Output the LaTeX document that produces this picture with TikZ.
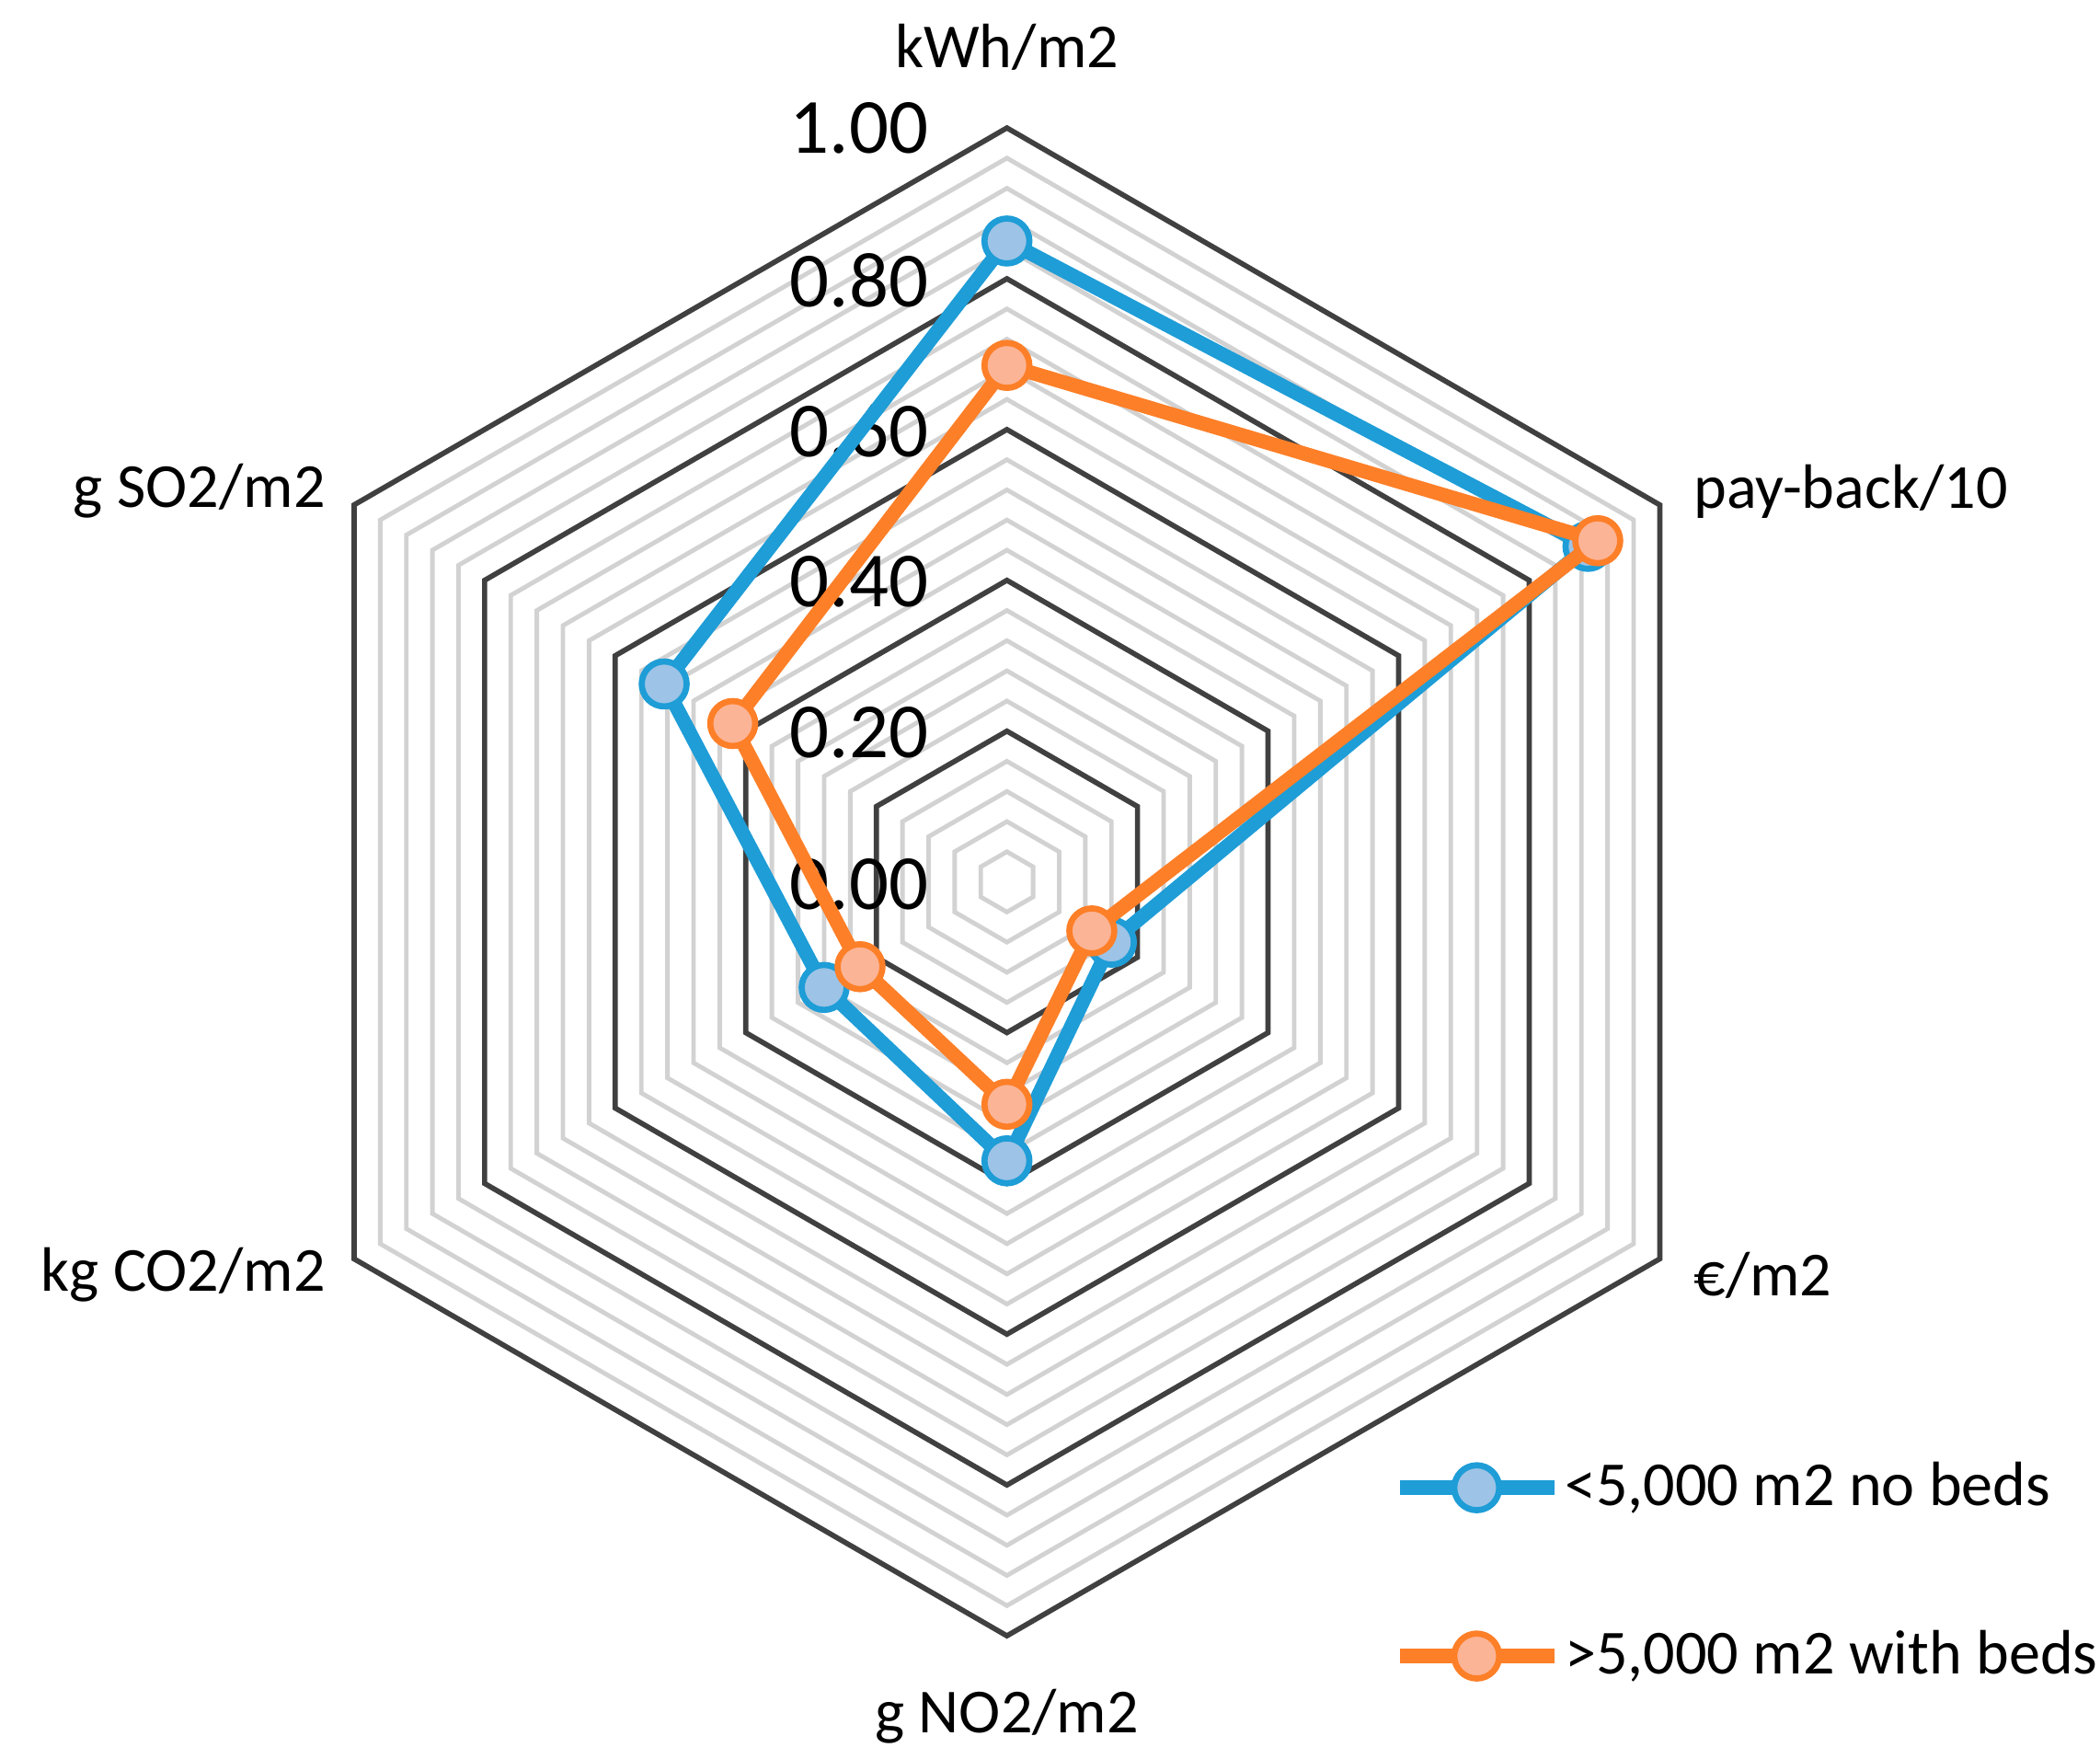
\documentclass[tikz,border=0pt]{standalone}
\usepackage{fontspec}
\setmainfont{Carlito}
\usetikzlibrary{calc}
\begin{document}
\begin{tikzpicture}[x=0.02cm,y=-0.02cm,
  lab/.style={font=\fontsize{26.5}{32}\selectfont,inner sep=0pt},
  tick/.style={font=\fontsize{33}{38}\selectfont,inner sep=0pt,anchor=east},
  ser/.style={line width=6pt,line join=round},
  mk/.style={circle,line width=2.6pt,minimum size=19pt,inner sep=0pt}]
\definecolor{sblue}{RGB}{30,157,215}\definecolor{sbluef}{RGB}{157,195,230}
\definecolor{sor}{RGB}{253,127,40}\definecolor{sorf}{RGB}{251,180,150}
\definecolor{gdark}{RGB}{64,64,64}\definecolor{glight}{RGB}{210,210,210}
\useasboundingbox (0,0) rectangle (1560,1306);
\coordinate (c) at (748,655);
\foreach \i in {1,...,25}{
  \pgfmathsetmacro\r{22.4*\i}
  \pgfmathtruncatemacro\m{mod(\i,5)}
  \ifnum\m=0 \def\col{gdark}\def\lw{2.2pt}\else\def\col{glight}\def\lw{1.9pt}\fi
  \draw[draw=\col,line width=\lw,line join=miter] ($(c)+(90:\r)$) \foreach \a in {30,-30,-90,210,150}{-- ($(c)+(\a:\r)$)} -- cycle;
}
\foreach \v/\y in {1.00/95,0.80/208,0.60/320,0.40/432,0.20/544,0.00/657}
  \node[tick] (t\y) at (690,\y) {\v};
\node[lab] (l1) at (748,35) {kWh/m2};
\node[lab,anchor=west] (l2) at (1258,365) {pay-back/10};
\node[lab,anchor=west] (l3) at (1258,947) {€/m2};
\node[lab] (l4) at (748,1275) {g NO2/m2};
\node[lab,anchor=east] (l5) at (242,947) {kg CO2/m2};
\node[lab,anchor=east] (l6) at (242,365) {g SO2/m2};
\foreach \n/\a/\v in {b1/90/0.85,b2/30/0.89,b3/-30/0.16,b4/-90/0.37,b5/210/0.28,b6/150/0.525,
  o1/90/0.685,o2/30/0.905,o3/-30/0.13,o4/-90/0.295,o5/210/0.225,o6/150/0.42}
  \coordinate (\n) at ($(c)+({560*\v*cos(\a)},{-560*\v*sin(\a)})$);
\draw[ser,sblue] (b1)--(b2)--(b3)--(b4)--(b5)--(b6)--cycle;
\foreach \n in {b1,b2,b3,b4,b5,b6} \node[mk,draw=sblue,fill=sbluef] at (\n) {};
\draw[ser,sor] (o1)--(o2)--(o3)--(o4)--(o5)--(o6)--cycle;
\foreach \n in {o1,o2,o3,o4,o5,o6} \node[mk,draw=sor,fill=sorf] at (\n) {};
% legend
\coordinate (la1) at (1040,1105); \coordinate (lb1) at (1155,1105);
\draw[ser,sblue] (la1)--(lb1);
\node[mk,draw=sblue,fill=sbluef] (lm1) at (1097,1105) {};
\node[lab,anchor=west] (lt1) at (1162,1105) {<5,000 m2 no beds};
\coordinate (la2) at (1040,1230); \coordinate (lb2) at (1155,1230);
\draw[ser,sor] (la2)--(lb2);
\node[mk,draw=sor,fill=sorf] (lm2) at (1097,1230) {};
\node[lab,anchor=west] (lt2) at (1162,1230) {>5,000 m2 with beds};
\end{tikzpicture}
\end{document}
